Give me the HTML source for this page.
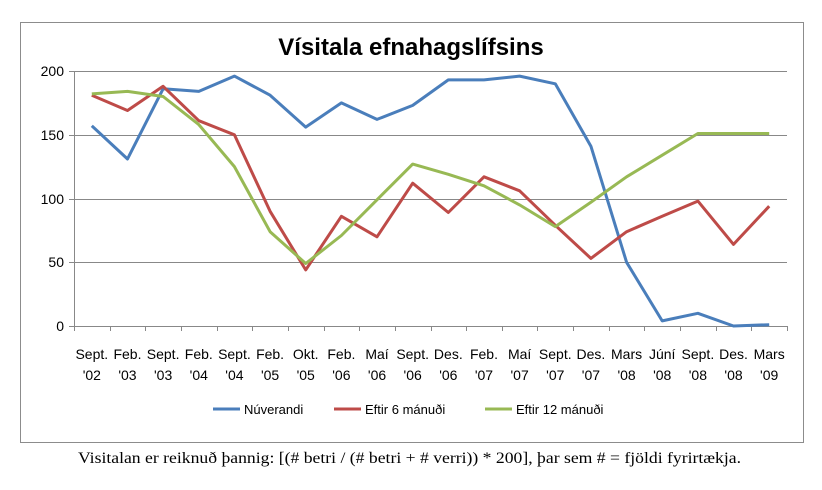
<!DOCTYPE html>
<html><head><meta charset="utf-8"><style>
body{margin:0;background:#fff;}
</style></head><body>
<svg width="822" height="485" xmlns="http://www.w3.org/2000/svg" font-family="Liberation Sans, sans-serif">
<rect x="20.5" y="22.5" width="783" height="420" fill="#fff" stroke="#8c8c8c"/>
<text x="411" y="55" text-anchor="middle" font-size="24" font-weight="bold">Vísitala efnahagslífsins</text>
<g stroke="#888" stroke-width="1">
<line x1="74" y1="71.5" x2="787" y2="71.5"/>
<line x1="74" y1="135.5" x2="787" y2="135.5"/>
<line x1="74" y1="199.5" x2="787" y2="199.5"/>
<line x1="74" y1="262.5" x2="787" y2="262.5"/>
<line x1="74" y1="326.5" x2="787" y2="326.5"/>
<line x1="74.5" y1="71" x2="74.5" y2="326"/>
<line x1="69" y1="71.5" x2="74" y2="71.5"/><line x1="69" y1="135.5" x2="74" y2="135.5"/><line x1="69" y1="199.5" x2="74" y2="199.5"/><line x1="69" y1="262.5" x2="74" y2="262.5"/><line x1="69" y1="326.5" x2="74" y2="326.5"/>
</g>
<g id="ticks" stroke="#888"></g>
<g font-size="14" text-anchor="end" fill="#000">
<text x="64" y="76">200</text><text x="64" y="140">150</text><text x="64" y="204">100</text><text x="64" y="267">50</text><text x="64" y="331">0</text>
</g>
<g id="xl" font-size="14" text-anchor="middle" fill="#000"></g>
<g fill="none" stroke-width="3" stroke-linejoin="round">
<polyline id="s1" stroke="#4a7ebb"/>
<polyline id="s2" stroke="#be4b48"/>
<polyline id="s3" stroke="#98b954"/>
</g>
<g font-size="13">
<line x1="213" y1="409" x2="240" y2="409" stroke="#4a7ebb" stroke-width="3"/><text x="244" y="414">Núverandi</text>
<line x1="334" y1="409" x2="361" y2="409" stroke="#be4b48" stroke-width="3"/><text x="365" y="414">Eftir 6 mánuði</text>
<line x1="485" y1="409" x2="512" y2="409" stroke="#98b954" stroke-width="3"/><text x="516" y="414">Eftir 12 mánuði</text>
</g>
<text x="78" y="463" font-family="Liberation Serif, serif" font-size="16" textLength="663" lengthAdjust="spacingAndGlyphs">Visitalan er reiknuð þannig: [(# betri / (# betri + # verri)) * 200], þar sem # = fjöldi fyrirtækja.</text>
</svg>
<script>
var L=[["Sept.","'02"],["Feb.","'03"],["Sept.","'03"],["Feb.","'04"],["Sept.","'04"],["Feb.","'05"],["Okt.","'05"],["Feb.","'06"],["Maí","'06"],["Sept.","'06"],["Des.","'06"],["Feb.","'07"],["Maí","'07"],["Sept.","'07"],["Des.","'07"],["Mars","'08"],["Júní","'08"],["Sept.","'08"],["Des.","'08"],["Mars","'09"]];
var x0=74,w=(787-74)/20,ns="http://www.w3.org/2000/svg";
var xl=document.getElementById("xl"),tk=document.getElementById("ticks");
for(var i=0;i<=20;i++){var t=document.createElementNS(ns,"line");var xx=Math.round(x0+i*w)+0.5;t.setAttribute("x1",xx);t.setAttribute("x2",xx);t.setAttribute("y1",326);t.setAttribute("y2",331);tk.appendChild(t);}
L.forEach(function(l,i){var cx=x0+(i+0.5)*w;for(var k=0;k<2;k++){var t=document.createElementNS(ns,"text");t.setAttribute("x",cx);t.setAttribute("y",k?380:359);t.textContent=l[k];xl.appendChild(t);}});
function pts(v){return v.map(function(y,i){return (x0+(i+0.5)*w).toFixed(1)+","+(326-y*255/200).toFixed(1)}).join(" ");}
document.getElementById("s1").setAttribute("points",pts([157,131,186,184,196,181,156,175,162,173,193,193,196,190,141,50,4,10,0,1]));
document.getElementById("s2").setAttribute("points",pts([181,169,188,161,150,90,44,86,70,112,89,117,106,79,53,74,86,98,64,94]));
document.getElementById("s3").setAttribute("points",pts([182,184,180,158,125,74,49,71,99,127,119,110,95,78,97,117,134,151,151,151]));
</script>
</body></html>
